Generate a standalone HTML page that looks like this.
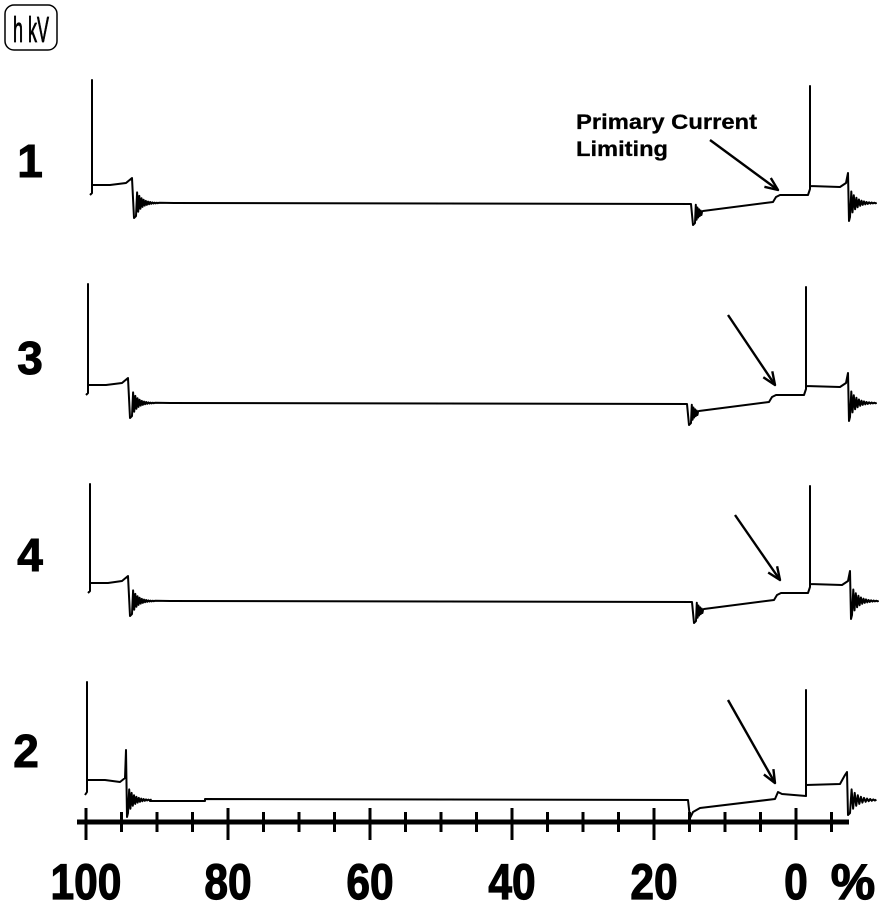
<!DOCTYPE html>
<html><head><meta charset="utf-8"><style>
html,body{margin:0;padding:0;background:#fff;width:896px;height:904px;overflow:hidden}
svg{position:absolute;left:0;top:0}
</style></head><body>
<svg id="s" width="896" height="904" viewBox="0 0 896 904" xmlns="http://www.w3.org/2000/svg">
<rect x="5" y="5" width="52" height="45" rx="9" fill="none" stroke="#000" stroke-width="1.5"/>
<text x="31" y="42" font-family="Liberation Sans, sans-serif" font-size="36" text-anchor="middle" stroke="#000" stroke-width="0.8" transform="translate(31,0) scale(0.5,1) translate(-31,0)">h kV</text>
<g font-family="Liberation Sans, sans-serif" font-weight="bold" font-size="46" text-anchor="middle" stroke="#000" stroke-width="1">
<text x="30" y="177">1</text><text x="30" y="374">3</text><text x="30" y="571">4</text><text x="26" y="767">2</text>
</g>
<g font-family="Liberation Sans, sans-serif" font-weight="bold" font-size="21" stroke="#000" stroke-width="0.3">
<text x="576" y="129" textLength="181" lengthAdjust="spacingAndGlyphs">Primary Current</text><text x="576" y="156" textLength="92" lengthAdjust="spacingAndGlyphs">Limiting</text>
</g>
<g id="tr" fill="none" stroke="#000" stroke-width="2" stroke-linejoin="round"></g>
<g id="ax" stroke="#000"></g>
<g font-family="Liberation Sans, sans-serif" font-weight="bold" font-size="50" text-anchor="middle" stroke="#000" stroke-width="1.2" id="lb"></g>
</svg>
<script>
var tr=document.getElementById('tr'),ax=document.getElementById('ax'),lb=document.getElementById('lb');
function P(d,w){var p=document.createElementNS('http://www.w3.org/2000/svg','path');p.setAttribute('d',d);if(w)p.setAttribute('stroke-width',w);tr.appendChild(p);}
function ring(x,y,amp,n,len){var d='';for(var i=0;i<n;i++){var a=amp*Math.exp(-i/5);d+=' L'+(x+i*len/n).toFixed(1)+','+(y+(i%2?-a:a)).toFixed(1);}return d;}
function panel(dy,sx,rx,dx,s2,r2,top1,top2){
 var b=203+dy;
 var d='M'+(sx-2)+','+(b-8)+' L'+sx+','+(b-10)+' L'+sx+','+(top1)+' L'+sx+','+(b-18)+' L'+(sx+18)+','+(b-18)+' L'+(rx-8)+','+(b-20)+' L'+(rx-2)+','+(b-25);
 d+=' L'+rx+','+(b+15)+ring(rx+2,b,13,22,24)+' L'+(rx+40)+','+b+' L'+(dx-2)+','+(b+1);
 d+=' L'+dx+','+(b+22)+ring(dx+2,b+10,10,10,8)+' L'+(dx+10)+','+(b+8)+' L'+(dx+80)+','+(b-1)+' L'+(dx+83)+','+(b-6)+' L'+(dx+87)+','+(b-8)+' L'+(dx+110)+','+(b-8)+' L'+(s2-2)+','+(b-8)+' L'+s2+','+(b-14);
 d+=' L'+s2+','+top2+' L'+s2+','+(b-17)+' L'+(r2-8)+','+(b-16)+' L'+(r2-2)+','+(b-20)+' L'+r2+','+(b-30)+' L'+(r2+1)+','+(b+18)+ring(r2+2,b,14,22,28);
 P(d);
}
panel(0,92,134,693,810,848,80,86);
panel(200,88,130,689,806,848,284,287);
panel(398,90,130,694,810,850,484,486);
P('M85,795 L87,792 L87,682 L87,780 L105,780 L120,782 L125,778 L126,750 L127,817'+ring(128,800,13,20,24)+' L150,801 L205,801 L205,799 L688,800 L690,818 L693,812 L700,808 L775,799 L778,792 L782,794 L806,796 L806,690 L806,785 L840,784 L845,775 L847,772 L848,815'+ring(850,800,13,18,28));
function arrow(x1,y1,x2,y2){P('M'+x1+','+y1+' L'+x2+','+y2,2.4);var a=Math.atan2(y2-y1,x2-x1),L=14;
 P('M'+(x2-L*Math.cos(a-0.4)).toFixed(1)+','+(y2-L*Math.sin(a-0.4)).toFixed(1)+' L'+x2+','+y2+' L'+(x2-L*Math.cos(a+0.4)).toFixed(1)+','+(y2-L*Math.sin(a+0.4)).toFixed(1),2.4);}
arrow(710,140,778,190);arrow(728,315,775,385);arrow(735,515,780,580);arrow(728,700,775,783);
var NS='http://www.w3.org/2000/svg';
function ln(x1,y1,x2,y2,w){var l=document.createElementNS(NS,'line');l.setAttribute('x1',x1);l.setAttribute('y1',y1);l.setAttribute('x2',x2);l.setAttribute('y2',y2);l.setAttribute('stroke-width',w);ax.appendChild(l);}
ln(77,822,849,822,5);
for(var v=100;v>=-5;v-=5){var x=796-(v*7.1);if(v%20==0)ln(x,808,x,840,3);else ln(x,812,x,832,3);}
[100,80,60,40,20,0].forEach(function(v){var x=796-v*7.1;var t=document.createElementNS(NS,'text');t.setAttribute('x',x);t.setAttribute('y',899);t.setAttribute('transform','translate('+x+',0) scale(0.85,1) translate('+(-x)+',0)');t.textContent=v;lb.appendChild(t);});
var t=document.createElementNS(NS,'text');t.setAttribute('x',853);t.setAttribute('y',899);t.textContent='%';lb.appendChild(t);
</script>
</body></html>
